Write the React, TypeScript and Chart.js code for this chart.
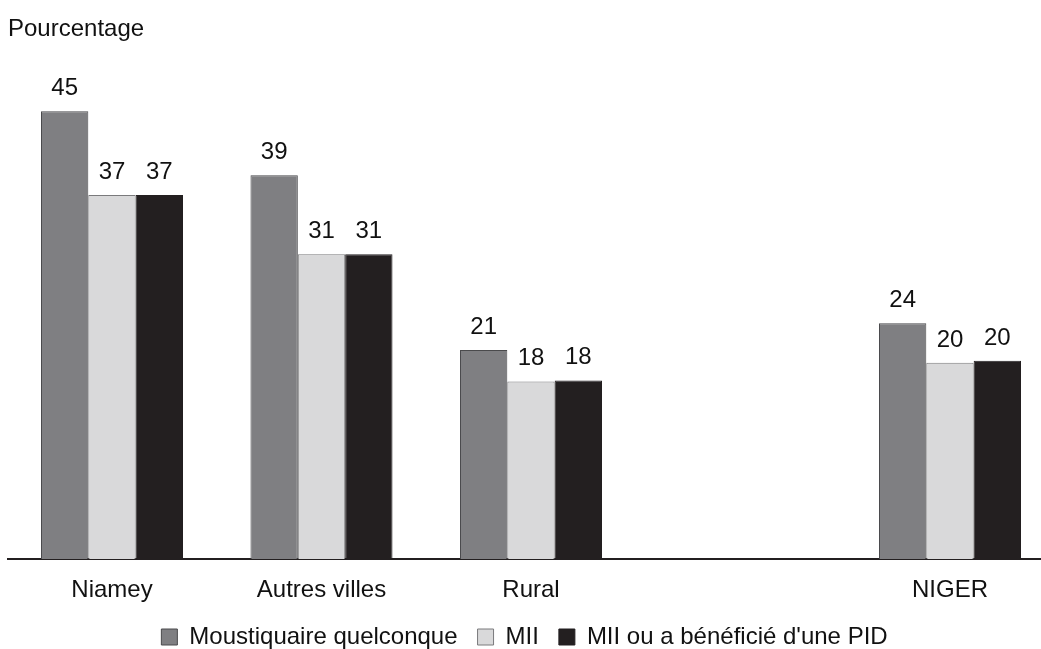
import React, { useEffect, useRef } from "react";
import { Chart, registerables } from "chart.js";

Chart.register(...registerables);

// Data
const categories = ["Niamey", "Autres villes", "Rural", "NIGER"];
const categoryPositions = [1, 2, 3, 5]; // NIGER set apart after an empty slot
const seriesNames = ["Moustiquaire quelconque", "MII", "MII ou a bénéficié d'une PID"];
const moustiquaire = [45.4, 38.9, 21.2, 23.9];
const mii = [36.9, 30.9, 18.0, 19.9];
const miiPid = [36.9, 30.9, 18.1, 20.1];
const yAxisLabel = "Pourcentage";

const FONT = "'Liberation Sans', Arial, Helvetica, sans-serif";
const colors = ["#7f7f82", "#d9d9da", "#231f20"];
const borders = ["#4a4a4c", "#7a7a7c", "#231f20"];

const valueLabels = {
  id: "valueLabels",
  afterDatasetsDraw(chart: any) {
    const ctx = chart.ctx;
    ctx.save();
    ctx.font = `24px ${FONT}`;
    ctx.fillStyle = "#111";
    ctx.textAlign = "center";
    ctx.textBaseline = "alphabetic";
    chart.data.datasets.forEach((ds: any, i: number) => {
      const meta = chart.getDatasetMeta(i);
      meta.data.forEach((el: any, j: number) => {
        const v = ds.data[j].y;
        ctx.fillText(String(Math.round(v)), el.x, el.y - 16);
      });
    });
    ctx.restore();
  },
};

export default function App() {
  const ref = useRef<HTMLCanvasElement | null>(null);

  useEffect(() => {
    if (!ref.current) return;
    const series = [moustiquaire, mii, miiPid];
    const chart = new Chart(ref.current, {
      type: "bar",
      data: {
        datasets: series.map((vals, i) => ({
          label: seriesNames[i],
          data: vals.map((v, j) => ({ x: categoryPositions[j], y: v })),
          backgroundColor: colors[i],
          borderColor: borders[i],
          borderWidth: 1,
          categoryPercentage: 0.678,
          barPercentage: 1,
        })),
      },
      options: {
        animation: false,
        responsive: true,
        maintainAspectRatio: false,
        layout: { padding: { left: 8, right: 0, top: 0, bottom: 0 } },
        plugins: {
          tooltip: { enabled: false },
          title: {
            display: true,
            text: yAxisLabel,
            align: "start",
            color: "#111",
            font: { family: FONT, size: 24, weight: "normal" },
            padding: { top: 15, bottom: 22 },
          },
          legend: {
            display: true,
            position: "bottom",
            align: "center",
            labels: {
              color: "#111",
              font: { family: FONT, size: 24 },
              boxWidth: 16,
              boxHeight: 16,
              padding: 20,
            },
          },
        },
        scales: {
          x: {
            type: "linear",
            offset: false,
            min: 0.5036,
            max: 5.4344,
            grid: { display: false, drawTicks: false, offset: false },
            border: { display: true, color: "#231f20", width: 2 },
            afterBuildTicks: (scale: any) => {
              scale.ticks = categoryPositions.map((v) => ({ value: v }));
            },
            afterFit: (scale: any) => {
              scale.height = 46;
            },
            ticks: {
              autoSkip: false,
              maxRotation: 0,
              padding: 17,
              color: "#111",
              font: { family: FONT, size: 24 },
              callback: (value: any) => {
                const idx = categoryPositions.indexOf(Number(value));
                return idx >= 0 ? categories[idx] : "";
              },
            },
          },
          y: {
            display: false,
            min: 0,
            max: 50,
          },
        },
      },
      plugins: [valueLabels],
    });
    return () => chart.destroy();
  }, []);

  return (
    <div
      style={{
        position: "fixed",
        left: 0,
        top: 0,
        width: 1041,
        height: 649,
        overflow: "hidden",
        background: "#fff",
      }}
    >
      <div style={{ position: "relative", width: 1041, height: 659 }}>
        <canvas ref={ref} />
      </div>
    </div>
  );
}
